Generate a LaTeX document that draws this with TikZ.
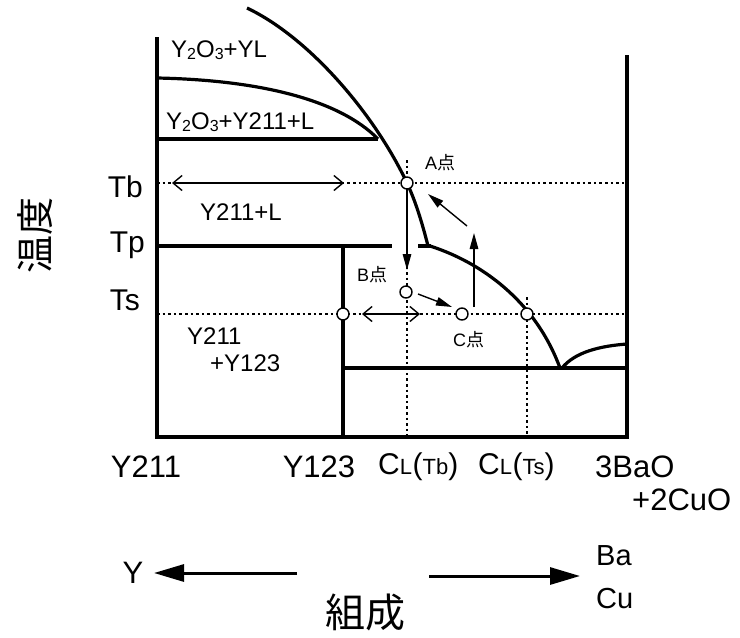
\documentclass[tikz,border=0pt]{standalone}
\usepackage{fontspec}
\setmainfont{Liberation Sans}
\newfontfamily\jp{Noto Sans CJK JP}
\usetikzlibrary{arrows.meta}
\newcommand\fs[1]{\fontsize{#1}{#1}\selectfont}
\newcommand\sub[1]{\raisebox{-1.5pt}{\fs{16}#1}}
\newcommand\clab[1]{\fs{30}C{\fs{22}L}\kern0.5pt({\fs{22}#1})}
\begin{document}
\begin{tikzpicture}[x=1pt,y=-1pt,
  heavy/.style={line width=3.2pt},
  dotline/.style={line width=1.4pt, dash pattern=on 2.6pt off 3pt},
  pt/.style={circle, draw, fill=white, line width=1.4pt, minimum size=12pt, inner sep=0pt},
  farrow/.style={line width=1.4pt, -{Triangle[length=16pt,width=8.5pt]}},
  barb/.style={line width=1.4pt, {Straight Barb[length=9pt,width=15pt]}-{Straight Barb[length=9pt,width=15pt]}},
  bigarrow/.style={line width=3pt, -{Triangle[length=30pt,width=17pt]}},
  region/.style={inner sep=0pt, font=\fs{24}},
  temp/.style={inner sep=0pt, font=\fs{30}},
  comp/.style={inner sep=0pt, font=\fs{31}},
  ptlab/.style={inner sep=0pt, font=\fs{18}}]
\useasboundingbox (0,0) rectangle (740,638);
\fill[white] (0,0) rectangle (740,638);

% dotted guide lines
\draw[dotline] (157,183) -- (627,183);
\draw[dotline] (157,314) -- (627,314);
\draw[dotline] (407,160) -- (407,437);
\draw[dotline] (527,297) -- (527,437);

% frame and phase boundaries
\draw[heavy] (157,37) -- (157,437) -- (627,437) -- (627,55);
\draw[heavy] (343,246) -- (343,437);
\draw[heavy] (343,368) -- (627,368);
\draw[heavy] (157,246) -- (392,246);
\draw[heavy] (157,139) -- (378,139);
\draw[heavy] (157,78) .. controls (260,80) and (340,100) .. (378,139);
\draw[heavy] (247,8) .. controls (310,38) and (375,115) .. (407,183)
                     .. controls (415,200) and (422,222) .. (428,246);
\draw[heavy] (418,246) -- (431,246);
\draw[heavy] (430,246) .. controls (480,262) and (535,300) .. (560,368);
\draw[heavy] (562,368) .. controls (575,352) and (600,346) .. (627,344);

% arrows
\coordinate (tbl) at (172,183);
\coordinate (tbr) at (344,183);
\draw[barb] (tbl) -- (tbr);
\coordinate (tsl) at (362,314);
\coordinate (tsr) at (420,314);
\draw[barb] (tsl) -- (tsr);

% points
\node[pt] (A) at (407,183) {};
\node[pt] (B) at (406,292) {};
\node[pt] (C) at (462,314) {};
\node[pt] (D) at (343,314) {};
\node[pt] (E) at (527,314) {};

\coordinate (Aend) at (407,270);
\draw[farrow] (A) -- (Aend);
\coordinate (BCs) at (418,294);
\coordinate (BCe) at (452,307);
\draw[farrow] (BCs) -- (BCe);
\coordinate (Cup1) at (474,307);
\coordinate (Cup2) at (474,233);
\draw[farrow] (Cup1) -- (Cup2);
\coordinate (dg1) at (467,226);
\coordinate (dg2) at (428,194);
\draw[farrow] (dg1) -- (dg2);

% region labels
\node[region, anchor=west] (r1) at (171,50) {Y\sub{2}O\sub{3}+YL};
\node[region, anchor=west] (r2) at (166,122) {Y\sub{2}O\sub{3}+Y211+L};
\node[region, anchor=west] (r3) at (200,212) {Y211+L};
\node[region, anchor=west] (r4) at (187,336) {Y211};
\node[region, anchor=west] (r5) at (210,363) {+Y123};

% point labels
\node[ptlab, anchor=west] (la) at (425,163) {A{\jp 点}};
\node[ptlab, anchor=west] (lb) at (357,275) {B{\jp 点}};
\node[ptlab, anchor=west] (lc) at (453,340) {C{\jp 点}};

% temperature labels
\node[temp, anchor=east] (tb) at (143,187) {Tb};
\node[temp, anchor=east] (tp) at (145,245) {Tp};
\node[temp, anchor=east] (ts) at (140,300) {Ts};
\node[inner sep=0pt, rotate=90, font=\jp\fs{38}] (ondo) at (35,235) {温度};

% composition labels
\node[comp] (c1) at (146,467) {Y211};
\node[comp] (c2) at (319,467) {Y123};
\node[comp, anchor=base west] (c3) at (378,474) {\clab{Tb}};
\node[comp, anchor=base west] (c4) at (478,474) {\clab{Ts}};
\node[comp, anchor=west] (c5) at (595,467) {3BaO};
\node[comp, anchor=west] (c6) at (632,500) {+2CuO};

% bottom axis
\node[comp] (ly) at (133,573) {Y};
\coordinate (ya) at (297,573);
\coordinate (yb) at (154,573);
\draw[bigarrow] (ya) -- (yb);
\coordinate (ba1) at (429,576);
\coordinate (ba2) at (580,576);
\draw[bigarrow] (ba1) -- (ba2);
\node[comp, anchor=west, font=\fs{29}] (lba) at (596,556) {Ba};
\node[comp, anchor=west, font=\fs{29}] (lcu) at (596,599) {Cu};
\node[inner sep=0pt, font=\jp\fs{40}] (soseii) at (365,612) {組成};
\end{tikzpicture}
\end{document}
